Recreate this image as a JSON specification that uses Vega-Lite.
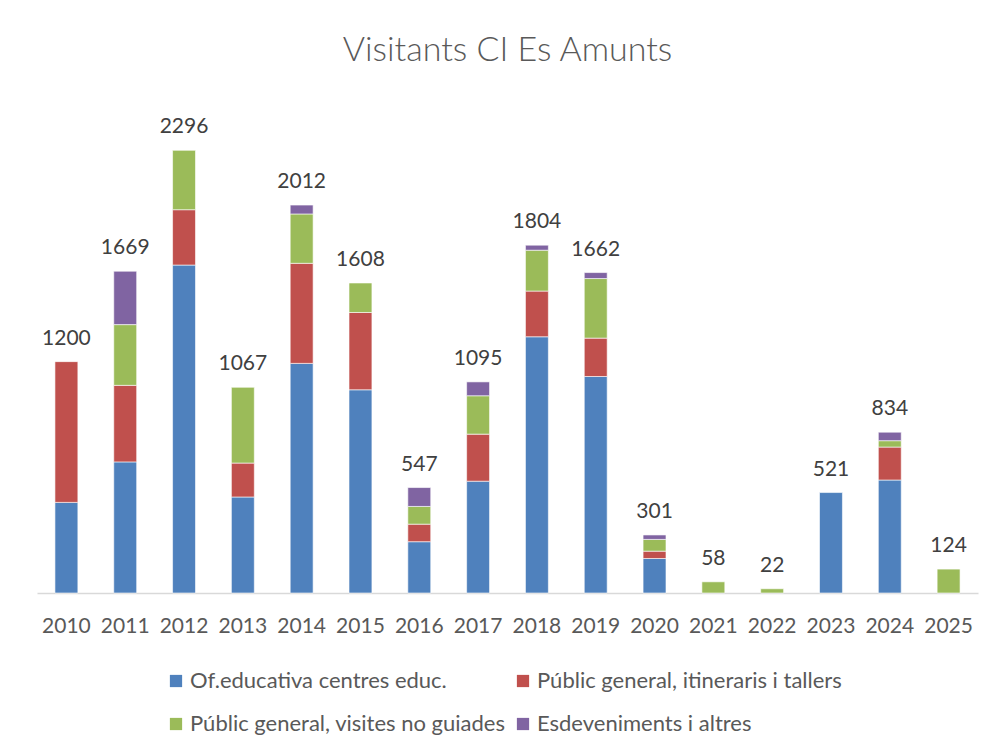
{
  "$schema": "https://vega.github.io/schema/vega-lite/v6.json",
  "width": 941,
  "height": 482,
  "autosize": {"type": "none"},
  "padding": {"left": 37, "top": 111, "right": 16, "bottom": 158},
  "background": "white",
  "title": {
    "text": "Visitants CI Es Amunts",
    "font": "Lato",
    "fontSize": 34,
    "fontWeight": 300,
    "color": "#595959",
    "anchor": "middle",
    "offset": 43
  },
  "data": {
    "values": [
      {"any": "2010", "serie": "Of.educativa centres educ.", "ord": 1, "valor": 470},
      {"any": "2010", "serie": "Públic general, itineraris i tallers", "ord": 2, "valor": 730},
      {"any": "2011", "serie": "Of.educativa centres educ.", "ord": 1, "valor": 680},
      {"any": "2011", "serie": "Públic general, itineraris i tallers", "ord": 2, "valor": 397},
      {"any": "2011", "serie": "Públic general, visites no guiades", "ord": 3, "valor": 315},
      {"any": "2011", "serie": "Esdeveniments i altres", "ord": 4, "valor": 277},
      {"any": "2012", "serie": "Of.educativa centres educ.", "ord": 1, "valor": 1701},
      {"any": "2012", "serie": "Públic general, itineraris i tallers", "ord": 2, "valor": 287},
      {"any": "2012", "serie": "Públic general, visites no guiades", "ord": 3, "valor": 308},
      {"any": "2013", "serie": "Of.educativa centres educ.", "ord": 1, "valor": 498},
      {"any": "2013", "serie": "Públic general, itineraris i tallers", "ord": 2, "valor": 176},
      {"any": "2013", "serie": "Públic general, visites no guiades", "ord": 3, "valor": 393},
      {"any": "2014", "serie": "Of.educativa centres educ.", "ord": 1, "valor": 1191},
      {"any": "2014", "serie": "Públic general, itineraris i tallers", "ord": 2, "valor": 519},
      {"any": "2014", "serie": "Públic general, visites no guiades", "ord": 3, "valor": 256},
      {"any": "2014", "serie": "Esdeveniments i altres", "ord": 4, "valor": 46},
      {"any": "2015", "serie": "Of.educativa centres educ.", "ord": 1, "valor": 1054},
      {"any": "2015", "serie": "Públic general, itineraris i tallers", "ord": 2, "valor": 401},
      {"any": "2015", "serie": "Públic general, visites no guiades", "ord": 3, "valor": 153},
      {"any": "2016", "serie": "Of.educativa centres educ.", "ord": 1, "valor": 266},
      {"any": "2016", "serie": "Públic general, itineraris i tallers", "ord": 2, "valor": 91},
      {"any": "2016", "serie": "Públic general, visites no guiades", "ord": 3, "valor": 92},
      {"any": "2016", "serie": "Esdeveniments i altres", "ord": 4, "valor": 98},
      {"any": "2017", "serie": "Of.educativa centres educ.", "ord": 1, "valor": 580},
      {"any": "2017", "serie": "Públic general, itineraris i tallers", "ord": 2, "valor": 244},
      {"any": "2017", "serie": "Públic general, visites no guiades", "ord": 3, "valor": 199},
      {"any": "2017", "serie": "Esdeveniments i altres", "ord": 4, "valor": 72},
      {"any": "2018", "serie": "Of.educativa centres educ.", "ord": 1, "valor": 1329},
      {"any": "2018", "serie": "Públic general, itineraris i tallers", "ord": 2, "valor": 237},
      {"any": "2018", "serie": "Públic general, visites no guiades", "ord": 3, "valor": 212},
      {"any": "2018", "serie": "Esdeveniments i altres", "ord": 4, "valor": 26},
      {"any": "2019", "serie": "Of.educativa centres educ.", "ord": 1, "valor": 1123},
      {"any": "2019", "serie": "Públic general, itineraris i tallers", "ord": 2, "valor": 199},
      {"any": "2019", "serie": "Públic general, visites no guiades", "ord": 3, "valor": 309},
      {"any": "2019", "serie": "Esdeveniments i altres", "ord": 4, "valor": 31},
      {"any": "2020", "serie": "Of.educativa centres educ.", "ord": 1, "valor": 179},
      {"any": "2020", "serie": "Públic general, itineraris i tallers", "ord": 2, "valor": 38},
      {"any": "2020", "serie": "Públic general, visites no guiades", "ord": 3, "valor": 61},
      {"any": "2020", "serie": "Esdeveniments i altres", "ord": 4, "valor": 23},
      {"any": "2021", "serie": "Públic general, visites no guiades", "ord": 3, "valor": 58},
      {"any": "2022", "serie": "Públic general, visites no guiades", "ord": 3, "valor": 22},
      {"any": "2023", "serie": "Of.educativa centres educ.", "ord": 1, "valor": 521},
      {"any": "2024", "serie": "Of.educativa centres educ.", "ord": 1, "valor": 586},
      {"any": "2024", "serie": "Públic general, itineraris i tallers", "ord": 2, "valor": 171},
      {"any": "2024", "serie": "Públic general, visites no guiades", "ord": 3, "valor": 33},
      {"any": "2024", "serie": "Esdeveniments i altres", "ord": 4, "valor": 44},
      {"any": "2025", "serie": "Públic general, visites no guiades", "ord": 3, "valor": 124}
    ]
  },
  "encoding": {
    "x": {
      "field": "any",
      "type": "ordinal",
      "scale": {"paddingInner": 0.61, "paddingOuter": 0.305},
      "axis": {
        "title": null,
        "labelAngle": 0,
        "labelFont": "Lato",
        "labelFontSize": 21,
        "labelColor": "#595959",
        "labelPadding": 22,
        "ticks": false,
        "domainColor": "#d9d9d9",
        "domainWidth": 1.5
      }
    }
  },
  "layer": [
    {
      "mark": {"type": "bar", "stroke": "white", "strokeWidth": 0.6},
      "encoding": {
        "y": {
          "field": "valor",
          "type": "quantitative",
          "aggregate": "sum",
          "stack": "zero",
          "scale": {"domain": [0, 2500], "nice": false},
          "axis": null
        },
        "color": {
          "field": "serie",
          "type": "nominal",
          "scale": {
            "domain": [
              "Of.educativa centres educ.",
              "Públic general, itineraris i tallers",
              "Públic general, visites no guiades",
              "Esdeveniments i altres"
            ],
            "range": ["#4F81BD", "#C0504D", "#9BBB59", "#8064A2"]
          },
          "legend": {
            "title": null,
            "orient": "none",
            "legendX": 128,
            "legendY": 559,
            "padding": 0,
            "direction": "horizontal",
            "columns": 2,
            "columnPadding": 6,
            "rowPadding": 21,
            "symbolType": "square",
            "symbolSize": 150,
            "symbolStrokeWidth": 0,
            "labelFont": "Lato",
            "labelFontSize": 22,
            "labelColor": "#595959",
            "labelOffset": 3,
            "labelLimit": 500
          }
        },
        "order": {"field": "ord", "type": "quantitative", "sort": "ascending"}
      }
    },
    {
      "mark": {
        "type": "text",
        "font": "Lato",
        "fontSize": 21,
        "color": "#404040",
        "baseline": "alphabetic",
        "dy": -17
      },
      "encoding": {
        "y": {"field": "valor", "type": "quantitative", "aggregate": "sum"},
        "text": {"field": "valor", "type": "quantitative", "aggregate": "sum"}
      }
    }
  ],
  "config": {
    "view": {"stroke": null}
  }
}
